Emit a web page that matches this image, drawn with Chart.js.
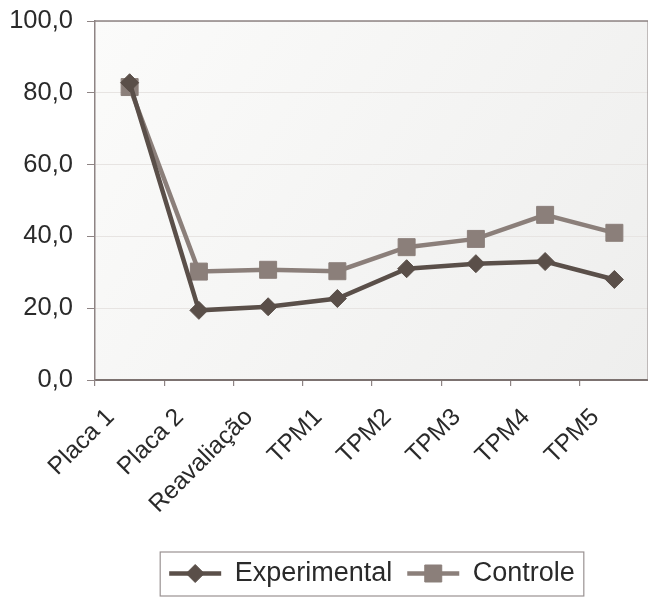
<!DOCTYPE html>
<html>
<head>
<meta charset="utf-8">
<script src="https://cdn.jsdelivr.net/npm/chart.js@4"></script>
<style>
  html, body { margin: 0; padding: 0; background: #ffffff; overflow: hidden; width: 648px; height: 597px; }
  #wrap { position: relative; width: 662px; height: 597px; }
</style>
</head>
<body>
<div id="wrap"><canvas id="c"></canvas></div>
<script>
const categories = ['Placa 1', 'Placa 2', 'Reavaliação', 'TPM1', 'TPM2', 'TPM3', 'TPM4', 'TPM5'];
const experimental = [82.8, 19.4, 20.4, 22.7, 31.0, 32.4, 33.0, 28.0];
const controle = [81.6, 30.2, 30.7, 30.3, 37.0, 39.3, 46.0, 41.0];
const seriesNames = ['Experimental', 'Controle'];
const yTicks = [0, 20, 40, 60, 80, 100];

const expColor = '#5a4f49';
const ctlColor = '#8b7f7a';
const frameColor = '#8e8484';
const fontFamily = "'Liberation Sans', Arial, sans-serif";

const plotBg = {
  id: 'plotBg',
  beforeDraw(chart) {
    const { ctx, chartArea: a } = chart;
    const g = ctx.createLinearGradient(a.left, a.top, a.right, a.bottom);
    g.addColorStop(0, '#fbfbfa');
    g.addColorStop(1, '#eeeeed');
    ctx.save();
    ctx.fillStyle = g;
    ctx.fillRect(a.left, a.top, a.right - a.left, a.bottom - a.top);
    ctx.restore();
  },
  afterDatasetsDraw(chart) {
    const { ctx, chartArea: a } = chart;
    ctx.save();
    ctx.strokeStyle = frameColor;
    ctx.lineWidth = 1.5;
    ctx.beginPath();
    ctx.moveTo(a.left, a.top);
    ctx.lineTo(a.right - 0.75, a.top);
    ctx.lineTo(a.right - 0.75, a.bottom);
    ctx.stroke();
    ctx.restore();
  }
};

const legendIcons = {
  id: 'legendIcons',
  afterDraw(chart) {
    const lg = chart.legend;
    if (!lg || !lg.legendHitBoxes) return;
    const ctx = chart.ctx;
    const boxes = lg.legendHitBoxes;
    const bw = lg.options.labels.boxWidth;
    ctx.save();
    boxes.forEach((b, i) => {
      const ds = chart.data.datasets[i];
      const cy = b.top + b.height / 2;
      ctx.strokeStyle = ds.borderColor;
      ctx.lineWidth = ds.borderWidth;
      ctx.beginPath();
      ctx.moveTo(b.left, cy);
      ctx.lineTo(b.left + bw, cy);
      ctx.stroke();
      ctx.fillStyle = ds.pointBackgroundColor;
      ctx.strokeStyle = ds.pointBorderColor;
      ctx.lineWidth = 1;
      Chart.helpers.drawPoint(ctx, {
        pointStyle: ds.pointStyle,
        radius: ds.pointRadius,
        borderWidth: 1
      }, b.left + bw / 2, cy);
    });
    const left = Math.min(...boxes.map(b => b.left)) - 9;
    const right = Math.max(...boxes.map(b => b.left + b.width)) + 9;
    const top = Math.min(...boxes.map(b => b.top)) - 8;
    const bottom = Math.max(...boxes.map(b => b.top + b.height)) + 9;
    ctx.strokeStyle = '#9a9292';
    ctx.lineWidth = 1.2;
    ctx.strokeRect(left, top, right - left, bottom - top);
    ctx.restore();
  }
};

new Chart(document.getElementById('c'), {
  type: 'line',
  data: {
    labels: categories,
    datasets: [
      {
        label: seriesNames[0],
        data: experimental,
        borderColor: expColor,
        backgroundColor: expColor,
        borderWidth: 4.5,
        pointStyle: 'rectRot',
        pointRadius: 9,
        pointBackgroundColor: expColor,
        pointBorderColor: expColor,
        pointBorderWidth: 1,
        tension: 0,
        order: 1
      },
      {
        label: seriesNames[1],
        data: controle,
        borderColor: ctlColor,
        backgroundColor: ctlColor,
        borderWidth: 4.5,
        pointStyle: 'rect',
        pointRadius: 12,
        pointBackgroundColor: ctlColor,
        pointBorderColor: ctlColor,
        pointBorderWidth: 1,
        tension: 0,
        order: 2
      }
    ]
  },
  options: {
    responsive: true,
    maintainAspectRatio: false,
    animation: false,
    devicePixelRatio: 1,
    layout: { padding: { top: 21, right: 0, left: 0, bottom: 0 } },
    plugins: {
      tooltip: { enabled: false },
      legend: {
        display: true,
        position: 'bottom',
        fullSize: false,
        onClick: null,
        labels: {
          boxWidth: 52,
          boxHeight: 20,
          padding: 15,
          color: '#2a2a2a',
          font: { family: fontFamily, size: 27 },
          generateLabels(chart) {
            return chart.data.datasets.map((ds, i) => ({
              text: ds.label,
              fillStyle: 'rgba(0,0,0,0)',
              strokeStyle: 'rgba(0,0,0,0)',
              lineWidth: 0,
              hidden: false,
              datasetIndex: i,
              fontColor: '#2a2a2a'
            }));
          }
        }
      }
    },
    scales: {
      x: {
        type: 'category',
        offset: true,
        grid: {
          offset: true,
          drawOnChartArea: false,
          drawTicks: true,
          tickLength: 6,
          color: frameColor,
          lineWidth: 1.2
        },
        border: { display: true, color: '#7c7270', width: 2 },
        ticks: {
          autoSkip: false,
          maxRotation: 45,
          minRotation: 45,
          labelOffset: -19,
          padding: 17,
          color: '#2a2a2a',
          font: { family: fontFamily, size: 24.5 }
        },
        afterFit(scale) {
          scale.height = 165;
          scale.paddingLeft = 0;
          scale.paddingRight = 0;
        }
      },
      y: {
        min: 0,
        max: 100,
        afterBuildTicks(scale) { scale.ticks = yTicks.map(v => ({ value: v })); },
        grid: {
          color: '#e7e4e2',
          lineWidth: 1,
          tickLength: 8,
          tickColor: frameColor,
          drawTicks: true
        },
        border: { display: true, color: frameColor, width: 1.5 },
        ticks: {
          padding: 14,
          color: '#2a2a2a',
          font: { family: fontFamily, size: 25.5 },
          callback: v => Number(v).toFixed(1).replace('.', ',')
        },
        afterFit(scale) {
          scale.width = 95;
          scale.paddingTop = 0;
          scale.paddingBottom = 0;
        }
      }
    }
  },
  plugins: [plotBg, legendIcons]
});
</script>
</body>
</html>
